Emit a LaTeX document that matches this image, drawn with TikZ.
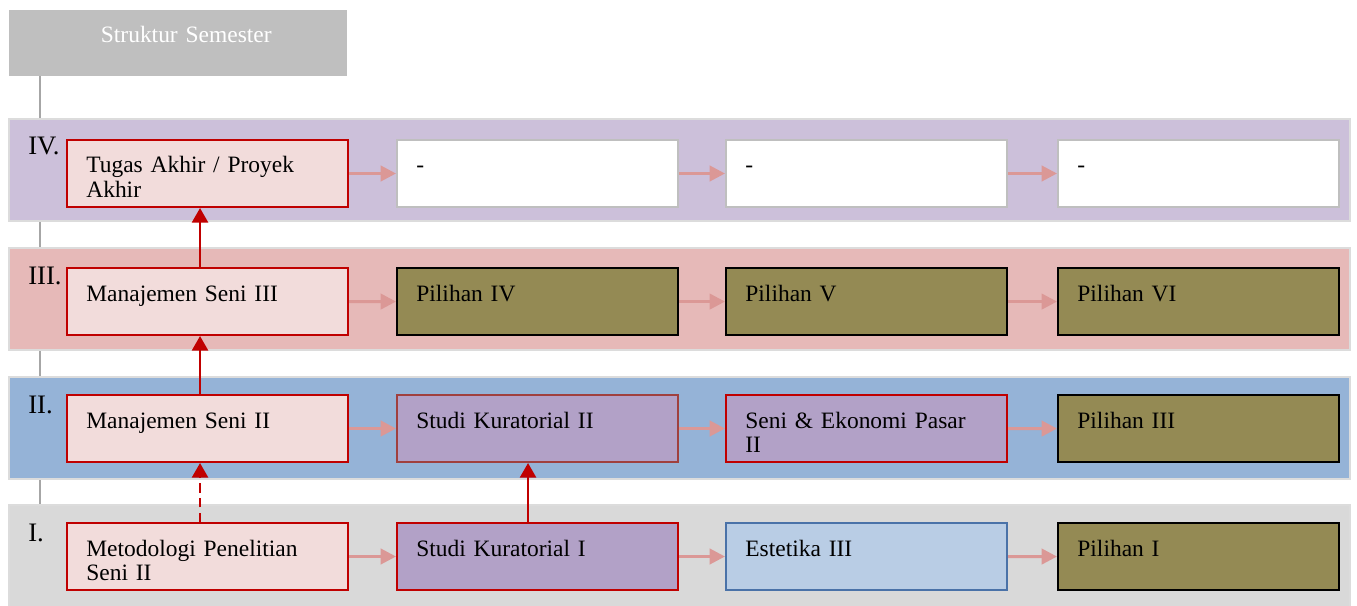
\documentclass[tikz,border=0pt]{standalone}
\usepackage{fontspec}
\setmainfont{Liberation Serif}
\usetikzlibrary{arrows.meta}

\definecolor{titlegray}{HTML}{BFBFBF}
\definecolor{spinegray}{HTML}{A6A6A6}
\definecolor{bandline}{HTML}{DCDCDC}
\definecolor{bandiv}{HTML}{CCC0DA}
\definecolor{bandiii}{HTML}{E6B9B8}
\definecolor{bandii}{HTML}{95B3D7}
\definecolor{bandi}{HTML}{D9D9D9}
\definecolor{corepink}{HTML}{F2DCDB}
\definecolor{corered}{HTML}{C00000}
\definecolor{olive}{HTML}{948A54}
\definecolor{lilac}{HTML}{B2A1C7}
\definecolor{darkrose}{HTML}{A0403E}
\definecolor{paleblue}{HTML}{B9CDE5}
\definecolor{steel}{HTML}{4A72A8}
\definecolor{flowpink}{HTML}{DB9896}

\begin{document}
\begin{tikzpicture}
    [x=.75pt, y=-.75pt,
     font=\fontsize{17.6}{18.5}\selectfont,
     >={Triangle[length=11.5pt, width=11.5pt]},
     cell/.style={draw, line width=1.5pt, anchor=north west,
                  inner xsep=14.5pt, inner ysep=0pt,
                  text width=181.75pt, align=left,
                  text height=24.75pt, text depth=25.5pt},
     core/.style={cell, fill=corepink, draw=corered},
     blank/.style={cell, fill=white, draw=titlegray},
     elective/.style={cell, fill=olive, draw=black, line width=1.6pt},
     kurasi/.style={cell, fill=lilac, draw=corered},
     flow/.style={->, draw=flowpink, line width=2.25pt},
     up/.style={->, draw=corered, line width=2pt,
                >={Triangle[length=11pt, width=12pt]}},
    ]
    \useasboundingbox (0,0) rectangle (1357,606);

    % Title
    \node[fill=titlegray, anchor=north west, inner sep=0pt,
          minimum width=253.5pt, text width=253.5pt, align=center,
          text height=24pt, text depth=25.5pt, text=white]
        (title) at (9,10) {\hspace*{12pt}Struktur Semester};

    % Spine behind the bands
    \coordinate (spinetop) at (40,76);
    \draw[spinegray, line width=1.5pt] (spinetop) -- (40,505);

    % Semester bands
    \foreach \bn / \bnum / \bcol / \btop / \bbot in
             {4/IV./bandiv/119/221, 3/III./bandiii/248/350,
              2/II./bandii/377/479, 1/I./bandi/505/612} {
        \draw[draw=bandline, line width=1.5pt, fill=\bcol]
            (9,\btop) rectangle (1350,\bbot);
        \node[anchor=base west, inner sep=0pt,
              font=\fontsize{20}{24}\selectfont]
            (sem\bn) at (28,\btop+36) {\bnum};
    }

    % Semester IV
    \node[core] (m41) at (66,139) {Tugas Akhir / Proyek\\Akhir};
    \node[blank] (m42) at (396,139) {-};
    \node[blank] (m43) at (725,139) {-};
    \node[blank] (m44) at (1057,139) {-};

    % Semester III
    \node[core] (m31) at (66,267) {Manajemen Seni III};
    \node[elective] (m32) at (396,267) {Pilihan IV};
    \node[elective] (m33) at (725,267) {Pilihan V};
    \node[elective] (m34) at (1057,267) {Pilihan VI};

    % Semester II
    \node[core] (m21) at (66,394) {Manajemen Seni II};
    \node[kurasi, draw=darkrose] (m22) at (396,394) {Studi Kuratorial II};
    \node[kurasi] (m23) at (725,394) {Seni \& Ekonomi Pasar\\II};
    \node[elective] (m24) at (1057,394) {Pilihan III};

    % Semester I
    \node[core] (m11) at (66,522) {Metodologi Penelitian\\Seni II};
    \node[kurasi] (m12) at (396,522) {Studi Kuratorial I};
    \node[cell, fill=paleblue, draw=steel] (m13) at (725,522) {Estetika III};
    \node[elective] (m14) at (1057,522) {Pilihan I};

    % Flow within a semester
    \foreach \r in {1,...,4}
        \foreach \a / \b in {1/2, 2/3, 3/4}
            \draw[flow] (m\r\a.east) -- (m\r\b.west);

    % Prerequisites
    \draw[up, dashed, dash pattern=on 7pt off 4pt]
        ([xshift=-5.6pt]m11.north) -- ([xshift=-5.6pt]m21.south);
    \draw[up] ([xshift=-5.6pt]m21.north) -- ([xshift=-5.6pt]m31.south);
    \draw[up] ([xshift=-5.6pt]m31.north) -- ([xshift=-5.6pt]m41.south);
    \draw[up] ([xshift=-7.1pt]m12.north) -- ([xshift=-7.1pt]m22.south);
\end{tikzpicture}
\end{document}
